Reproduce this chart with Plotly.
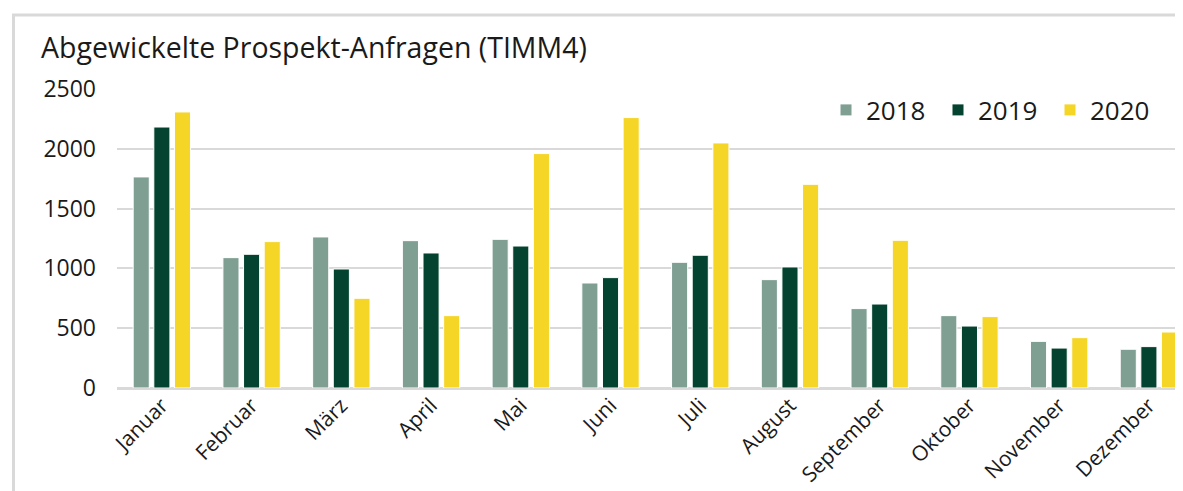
import plotly.graph_objects as go

# Abgewickelte Prospekt-Anfragen (TIMM4) - monthly values per year

months = ["Januar", "Februar", "März", "April", "Mai", "Juni", "Juli",
          "August", "September", "Oktober", "November", "Dezember"]

v2018 = [1765, 1090, 1263, 1232, 1243, 878, 1051, 906, 664, 605, 390, 324]
v2019 = [2182, 1118, 995, 1129, 1187, 923, 1110, 1012, 702, 518, 334, 346]
v2020 = [2308, 1224, 750, 605, 1960, 2261, 2049, 1703, 1235, 597, 421, 468]

years = ["2018", "2019", "2020"]
year_color = {
    "2018": "#7f9f93",
    "2019": "#03432f",
    "2020": "#f5d526",
}

FONT = "Open Sans"

# the page body adds an 8px margin, so the figure is a bit smaller
W, H = 1175, 483
L, T, B = 109, 81, 103
plot_w = W - L
plot_h = H - T - B

fig = go.Figure()
for year, vals in zip(years, [v2018, v2019, v2020]):
    fig.add_trace(go.Bar(
        x=months, y=vals, name=year,
        marker_color=year_color[year],
        marker_line_color="white", marker_line_width=1,
    ))

fig.update_layout(
    width=W, height=H,
    margin=dict(l=L, r=0, t=T, b=B, autoexpand=False),
    plot_bgcolor="white", paper_bgcolor="white",
    barmode="group", bargap=0.31, bargroupgap=0.22,
    font=dict(family=FONT, color="#1a1a1a"),
    title=dict(text="Abgewickelte Prospekt-Anfragen (TIMM4)",
               xref="container", yref="container",
               x=33 / W, xanchor="left",
               y=1 - 40 / H, yanchor="middle",
               font=dict(family=FONT, size=28.5, color="#1a1a1a")),
    legend=dict(orientation="h", x=(818 - L) / plot_w, xanchor="left",
                y=(H - B - 102) / plot_h, yanchor="middle",
                font=dict(family=FONT, size=26, color="#1a1a1a"),
                itemwidth=30, entrywidth=67, entrywidthmode="pixels",
                traceorder="normal"),
    showlegend=True,
)

fig.update_xaxes(
    range=[-0.5, 11.38], tickangle=-45, automargin=False,
    tickfont=dict(family=FONT, size=21, color="#1a1a1a"),
    showgrid=False, showline=False, ticks="",
)
fig.update_yaxes(
    range=[0, 2500], tickvals=[0, 500, 1000, 1500, 2000, 2500],
    automargin=False,
    tickfont=dict(family=FONT, size=23, color="#1a1a1a"),
    showgrid=True, gridcolor="#d9d9d9", gridwidth=2,
    zeroline=True, zerolinecolor="#d9d9d9", zerolinewidth=3,
    ticks="", ticklabelstandoff=20,
)

# grey frame around the chart (cut off at right and bottom like the source)
fig.add_shape(type="rect", xref="paper", yref="paper",
              x0=(5.5 - L) / plot_w, x1=2,
              y0=-1, y1=(H - B - 7) / plot_h,
              line=dict(color="#d9d9d9", width=3), layer="below")

fig.write_html("out.html")
